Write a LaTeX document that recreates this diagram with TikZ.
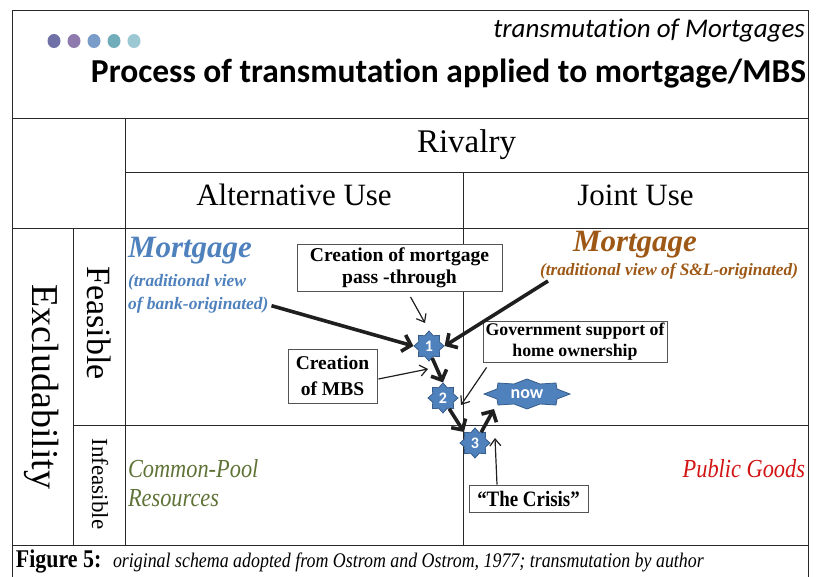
\documentclass[tikz,border=0pt]{standalone}
\usepackage{fontspec}
\setmainfont{Liberation Serif}
\newfontfamily\calibri{Carlito}[Ligatures=NoCommon]
\newfontfamily\narrowserif{Liberation Serif}[FakeStretch=0.86]
\usetikzlibrary{arrows.meta,shapes.geometric,calc}

\definecolor{mblue}{RGB}{79,129,189}
\definecolor{sline}{RGB}{56,93,138}
\definecolor{mbrown}{RGB}{158,88,22}
\definecolor{cpgreen}{RGB}{95,115,55}
\definecolor{pgred}{RGB}{210,20,20}
\definecolor{gridline}{RGB}{40,40,40}
\definecolor{dotA}{RGB}{110,112,166}
\definecolor{dotB}{RGB}{142,122,172}
\definecolor{dotC}{RGB}{122,156,200}
\definecolor{dotD}{RGB}{112,172,186}
\definecolor{dotE}{RGB}{156,200,212}

\tikzset{
  grid/.style={draw=gridline, line width=0.9pt},
  txt/.style={inner sep=0pt, outer sep=0pt},
  labelbox/.style={draw=gridline!80, line width=0.9pt, fill=white, align=center,
    inner sep=0pt},
  stepstar/.style={star, star points=8, star point ratio=1.35, minimum size=30pt,
    inner sep=0pt, fill=mblue, draw=sline, line width=0.8pt,
    text=white, font=\calibri\bfseries\fontsize{16}{16}\selectfont},
  bigarrow/.style={draw=black!88, line width=3.6pt,
    -{Straight Barb[length=8pt,width=17pt,line width=3.6pt]}},
  smallarrow/.style={draw=black!88, line width=1.2pt,
    -{Straight Barb[length=7pt,width=11pt,line width=1.2pt]}},
}

\begin{document}
\begin{tikzpicture}[x=1pt, y=-1pt]
\useasboundingbox (0,0) rectangle (822,577);

% outer frame
\draw[grid] (12,577) -- (12,10) -- (808,10) -- (808,577);

% header
\foreach \cx/\col in {54/dotA,74/dotB,94/dotC,114/dotD,134/dotE}
  \fill[\col] (\cx,41) ellipse (6.5 and 7);
\node[txt, anchor=base east] (subtitle) at (805,38)
  {\calibri\itshape\fontsize{27}{27}\selectfont transmutation of Mortgages};
\node[txt, anchor=base east] (title) at (806,83)
  {\calibri\bfseries\fontsize{33.5}{33.5}\selectfont Process of transmutation applied to mortgage/MBS};

% table grid
\draw[grid] (12,118) -- (808,118);
\draw[grid] (125,118) -- (125,545);
\draw[grid] (125,172) -- (808,172);
\draw[grid] (463,172) -- (463,545);
\draw[grid] (12,228) -- (808,228);
\draw[grid] (73,228) -- (73,545);
\draw[grid] (73,425) -- (808,425);
\draw[grid] (12,545) -- (808,545);

% column and row headings
\node[txt] (rivalry) at (466.5,145) {\fontsize{33}{33}\selectfont Rivalry};
\node[txt, anchor=base] (alt) at (294,206) {\fontsize{31}{31}\selectfont Alternative Use};
\node[txt, anchor=base] (joint) at (635.5,206) {\fontsize{31}{31}\selectfont Joint Use};
\node[txt, rotate=-90] (excl) at (42,387) {\fontsize{38}{38}\selectfont Excludability};
\node[txt, rotate=-90] (feas) at (99,323) {\fontsize{34}{34}\selectfont Feasible};
\node[txt, rotate=-90] (infeas) at (100,484) {\fontsize{23}{23}\selectfont Infeasible};

% quadrant labels
\node[txt, anchor=base west, text=mblue] (mortL) at (128,258)
  {\bfseries\itshape\fontsize{31}{31}\selectfont Mortgage};
\node[txt, anchor=base west, text=mblue] (bankA) at (128,287)
  {\bfseries\itshape\fontsize{17.5}{17.5}\selectfont (traditional view};
\node[txt, anchor=base west, text=mblue] (bankB) at (128,310)
  {\bfseries\itshape\fontsize{17.5}{17.5}\selectfont of bank-originated)};
\node[txt, anchor=base west, text=mbrown] (mortR) at (573,252)
  {\bfseries\itshape\fontsize{31}{31}\selectfont Mortgage};
\node[txt, anchor=base west, text=mbrown] (snl) at (540,276)
  {\bfseries\itshape\fontsize{17.3}{17.3}\selectfont (traditional view of S\&L-originated)};
\node[txt, anchor=base west, text=cpgreen] (cpool) at (128,477)
  {\narrowserif\itshape\fontsize{26}{26}\selectfont Common-Pool};
\node[txt, anchor=base west, text=cpgreen] (cpool2) at (128,506)
  {\narrowserif\itshape\fontsize{26}{26}\selectfont Resources};
\node[txt, anchor=base east, text=pgred] (pgoods) at (805,477)
  {\narrowserif\itshape\fontsize{26}{26}\selectfont Public Goods};

% explanatory boxes
\node[labelbox, minimum width=205pt, minimum height=47pt,
  font=\bfseries\fontsize{19.6}{22}\selectfont] (pass) at (399.5,268)
  {Creation of mortgage\\ pass -through};
\node[labelbox, minimum width=89pt, minimum height=54pt,
  font=\bfseries\fontsize{19.5}{26}\selectfont] (mbs) at (332.5,376)
  {Creation\\ of MBS};
\node[labelbox, minimum width=184pt, minimum height=41pt,
  font=\bfseries\fontsize{17.8}{21}\selectfont] (gov) at (575,341.5)
  {Government support of\\ home ownership};
\node[labelbox, minimum width=119pt, minimum height=27pt,
  font=\narrowserif\bfseries\fontsize{22}{22}\selectfont] (crisis) at (528.5,498.5)
  {“The Crisis”};

% transmutation steps
\node[stepstar] (s1) at (429,346) {1};
\node[stepstar] (s2) at (443,398) {2};
\node[stepstar] (s3) at (475,443) {3};

% "now" marker: a stretched eight-point star
\coordinate (nowc) at (527,394);
\draw[fill=mblue, draw=sline, line width=0.8pt]
  ($(nowc)+(43,0)$)
  \foreach \dx/\dy in {30/-5, 29/-11, 13/-10, 0/-15, -13/-10, -29/-11, -30/-5,
      -43/0, -30/5, -29/11, -13/10, 0/15, 13/10, 29/11, 30/5}
    { -- ($(nowc)+(\dx,\dy)$) }
  -- cycle;
\node[txt, text=white] (now) at (nowc)
  {\calibri\bfseries\fontsize{18}{18}\selectfont now};

% free ends of connectors
\coordinate (passTip) at (425,323);
\coordinate (mbsTip) at (428,369);
\coordinate (govTip) at (461,405);
\coordinate (nowIn) at (494,409);
\coordinate (crisisTip) at (495,438);
\coordinate (snlStart) at (548,281);

% connectors
\draw[bigarrow] ([xshift=3pt]bankB.east) -- (s1.west);
\draw[bigarrow] (snlStart) -- (s1.east);
\draw[smallarrow] ($(pass.south)+(11,5)$) -- (passTip);
\draw[smallarrow] ($(mbs.east)+(1,3)$) -- (mbsTip);
\draw[bigarrow] (s1.-75) -- (s2.north);
\draw[smallarrow] ($(gov.south west)+(4,5)$) -- (govTip);
\draw[bigarrow] (s2.-60) -- (s3.north west);
\draw[bigarrow] (s3.60) -- (nowIn);
\draw[smallarrow] ($(crisis.north)+(-31.5,0)$) -- (crisisTip);

% caption
\node[txt, anchor=base west] (figlabel) at (16,567)
  {\narrowserif\bfseries\fontsize{25.5}{25.5}\selectfont Figure 5:};
\node[txt, anchor=base west] (figtext) at (113,567)
  {\narrowserif\itshape\fontsize{20.8}{20.8}\selectfont original schema adopted from Ostrom and Ostrom, 1977; transmutation by author};
\end{tikzpicture}
\end{document}
